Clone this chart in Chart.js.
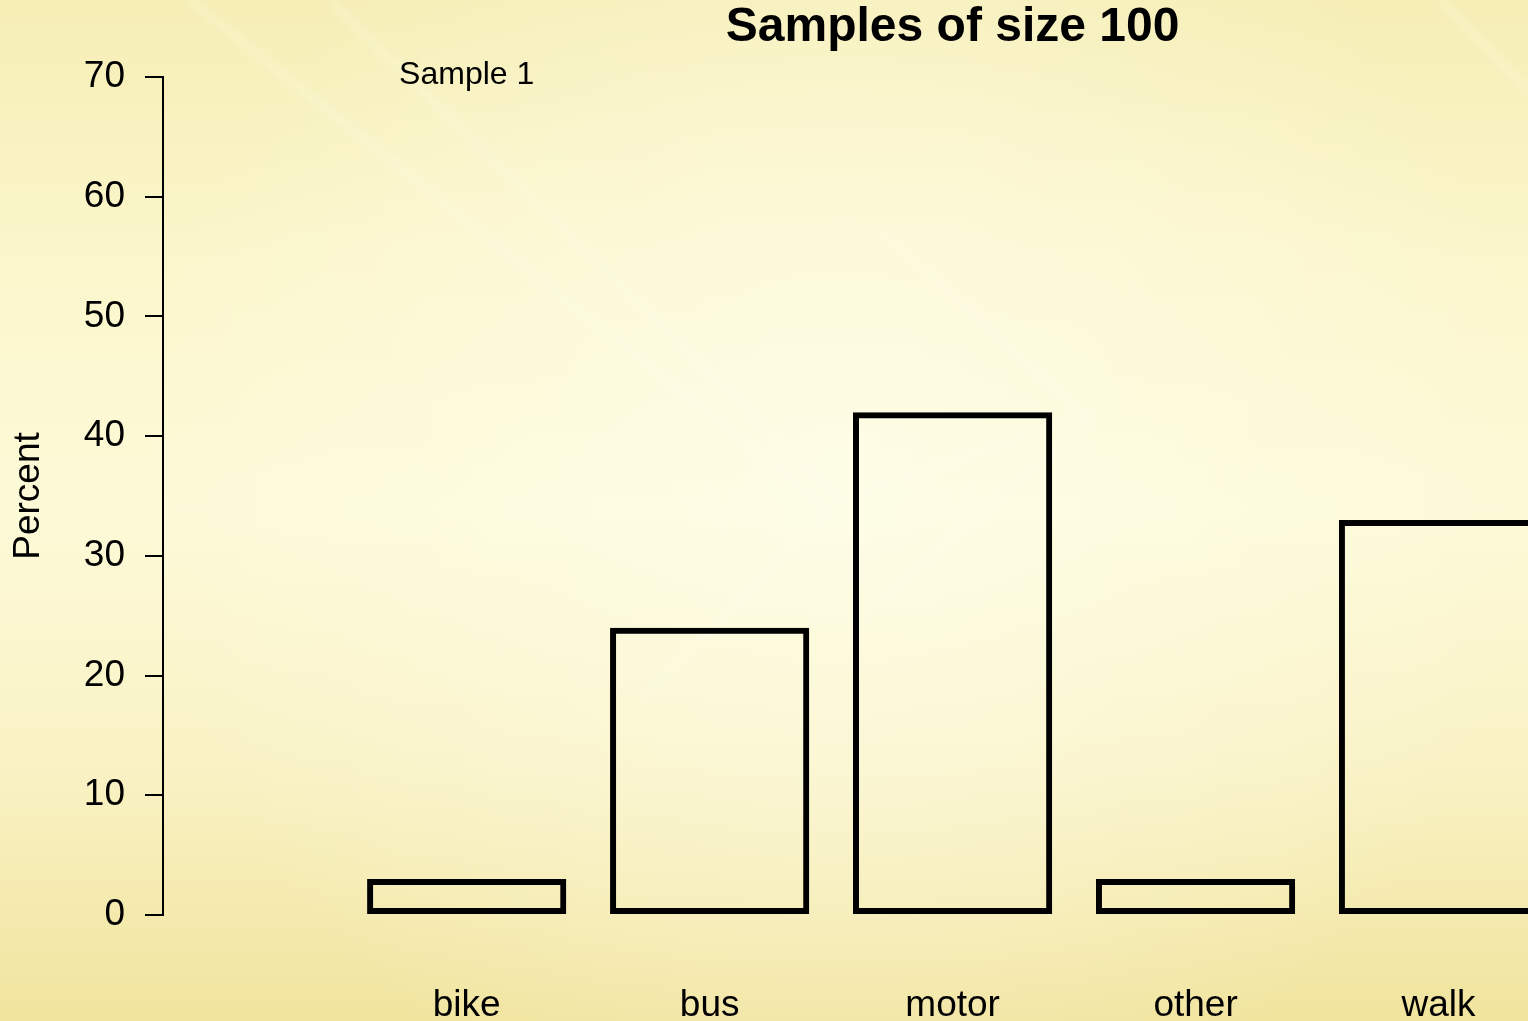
<!DOCTYPE html>
<html>
<head>
<meta charset="utf-8">
<script src="https://cdn.jsdelivr.net/npm/chart.js@4"></script>
<style>
  html, body { margin: 0; padding: 0; overflow: hidden; background: #f6eeb4; }
  #wrap { width: 1560px; height: 1040px; }
</style>
</head>
<body>
<div id="wrap"><canvas id="chart" width="1560" height="1040"></canvas></div>
<script>
// data
const categories = ['bike', 'bus', 'motor', 'other', 'walk'];
const percents = [3, 24, 42, 3, 33];
const yTicks = [0, 10, 20, 30, 40, 50, 60, 70];
const titleText = 'Samples of size 100';
const sampleText = 'Sample 1';
const yTitle = 'Percent';

const FONT = '"Liberation Sans", Arial, Helvetica, sans-serif';

// soft yellow backdrop with a few light streaks
const backdrop = {
    id: 'backdrop',
    beforeDraw(chart) {
        const ctx = chart.ctx;
        const w = chart.width, h = chart.height;
        ctx.save();
        let g = ctx.createLinearGradient(0, 0, 0, 1021);
        g.addColorStop(0, '#f6eeb5');
        g.addColorStop(0.25, '#fbf6cb');
        g.addColorStop(0.5, '#fdfad8');
        g.addColorStop(0.75, '#f9f2c4');
        g.addColorStop(1, '#f1e49e');
        ctx.fillStyle = g;
        ctx.fillRect(0, 0, w, h);

        let r = ctx.createRadialGradient(840, 470, 10, 840, 470, 700);
        r.addColorStop(0, 'rgba(255,255,240,0.6)');
        r.addColorStop(1, 'rgba(255,255,240,0)');
        ctx.fillStyle = r;
        ctx.fillRect(0, 0, w, h);

        ctx.filter = 'blur(4px)';
        ctx.strokeStyle = 'rgba(255,255,245,0.28)';
        ctx.lineWidth = 7;
        let streaks = [
            [[190, 0], [830, 510], [640, 700]],
            [[330, 0], [840, 500], [1100, 410]],
            [[880, 230], [1090, 420], [880, 600]],
            [[1440, 0], [1528, 90]]
        ];
        for (const s of streaks) {
            ctx.beginPath();
            ctx.moveTo(s[0][0], s[0][1]);
            for (let i = 1; i < s.length; i++) ctx.lineTo(s[i][0], s[i][1]);
            ctx.stroke();
        }
        ctx.restore();
    }
};

// title and sample label, placed on the x scale
const captions = {
    id: 'captions',
    afterDraw(chart) {
        const ctx = chart.ctx;
        const x = chart.scales.x;
        ctx.save();
        ctx.fillStyle = '#000';
        ctx.textAlign = 'center';
        ctx.textBaseline = 'middle';
        ctx.font = 'bold 48px ' + FONT;
        ctx.fillText(titleText, x.getPixelForValue(2), 28);
        ctx.font = '32px ' + FONT;
        ctx.fillText(sampleText, x.getPixelForValue(0), 75);
        ctx.restore();
    }
};

const ctx = document.getElementById('chart');

new Chart(ctx, {
    type: 'bar',
    data: {
        datasets: [{
            data: percents.map((v, i) => ({ x: i, y: v })),
            backgroundColor: 'rgba(0,0,0,0)',
            borderColor: '#000',
            borderWidth: 6,
            borderSkipped: false,
            barPercentage: 0.82,
            categoryPercentage: 1
        }]
    },
    options: {
        responsive: false,
        animation: false,
        layout: { padding: { top: 77, left: 0, right: 0, bottom: 16 } },
        plugins: {
            legend: { display: false },
            tooltip: { enabled: false },
            title: { display: false }
        },
        scales: {
            x: {
                type: 'linear',
                offset: false,
                min: -1.25,
                max: 4.5,
                afterBuildTicks: (scale) => {
                    scale.ticks = categories.map((c, i) => ({ value: i }));
                },
                afterFit: (scale) => { scale.height = 109; },
                ticks: {
                    callback: (v) => categories[v] ?? '',
                    color: '#000',
                    padding: 72,
                    maxRotation: 0,
                    autoSkip: false,
                    font: { family: FONT, size: 37, lineHeight: 1 }
                },
                grid: { display: false, drawTicks: false, offset: false },
                border: { display: false }
            },
            y: {
                min: 0,
                max: 70,
                afterBuildTicks: (scale) => {
                    scale.ticks = yTicks.map(v => ({ value: v }));
                },
                afterFit: (scale) => { scale.width = 163; },
                ticks: {
                    color: '#000',
                    padding: 20,
                    font: { family: FONT, size: 37, lineHeight: 1 }
                },
                grid: {
                    drawOnChartArea: false,
                    drawTicks: true,
                    tickLength: 18,
                    color: '#000',
                    lineWidth: 2
                },
                border: { display: true, color: '#000', width: 2 },
                title: {
                    display: true,
                    text: yTitle,
                    color: '#000',
                    padding: { top: 10, bottom: 0 },
                    font: { family: FONT, size: 37, lineHeight: 1 }
                }
            }
        }
    },
    plugins: [backdrop, captions]
});
</script>
</body>
</html>
